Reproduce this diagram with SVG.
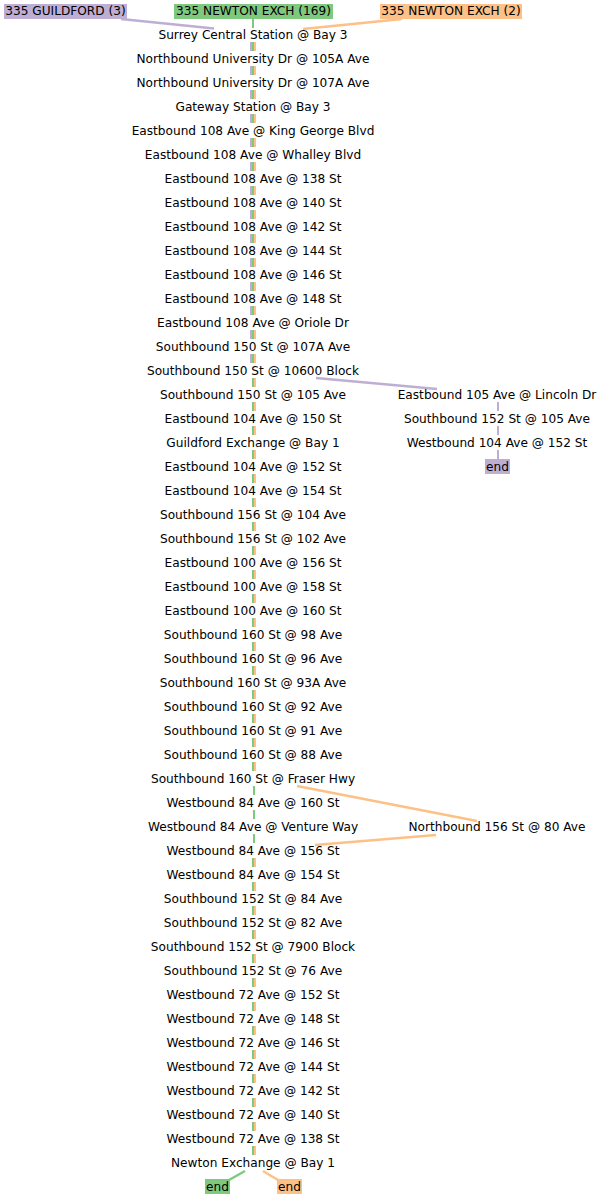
<svg xmlns="http://www.w3.org/2000/svg" width="604" height="1200" viewBox="0 0 604 1200">
<style>
text{font-family:"DejaVu Sans",sans-serif;font-size:12.15px;fill:#000;text-anchor:middle}
.p{stroke:#beaed4;fill:none;stroke-width:2}
.g{stroke:#7fc97f;fill:none;stroke-width:2}
.o{stroke:#fdc086;fill:none;stroke-width:2}
.d{stroke-width:2.5}
.pf{fill:#beaed4}.gf{fill:#7fc97f}.of{fill:#fdc086}
</style>
<rect width="604" height="1200" fill="#fff"/>
<g id="connectors">
<path class="p" d="M251 42V51M251 66V75M251 90V99M251 114V123M251 138V147M251 162V171M251 186V195M251 210V219M251 234V243M251 258V267M251 282V291M251 306V315M251 330V339M251 354V363M498 402V411M498 426V435M498 450V459"/>
<path class="p d" d="M121 19L214 28.5M316 378L437 389"/>
<path class="g" d="M253 19V28M253 42V51M253 66V75M253 90V99M253 114V123M253 138V147M253 162V171M253 186V195M253 210V219M253 234V243M253 258V267M253 282V291M253 306V315M253 330V339M253 354V363M253 378V387M253 402V411M253 426V435M253 450V459M253 474V483M253 498V507M253 522V531M253 546V555M253 570V579M253 594V603M253 618V627M253 642V651M253 666V675M253 690V699M253 714V723M253 738V747M253 762V771M254 786V795M254 810V819M254 834V843M253 858V867M253 882V891M253 906V915M253 930V939M253 954V963M253 978V987M253 1002V1011M253 1026V1035M253 1050V1059M253 1074V1083M253 1098V1107M253 1122V1131M253 1146V1155"/>
<path class="g d" d="M245 1171L229 1180"/>
<path class="o" d="M255 42V51M255 66V75M255 90V99M255 114V123M255 138V147M255 162V171M255 186V195M255 210V219M255 234V243M255 258V267M255 282V291M255 306V315M255 330V339M255 354V363M255 378V387M255 402V411M255 426V435M255 450V459M255 474V483M255 498V507M255 522V531M255 546V555M255 570V579M255 594V603M255 618V627M255 642V651M255 666V675M255 690V699M255 714V723M255 738V747M255 762V771M255 858V867M255 882V891M255 906V915M255 930V939M255 954V963M255 978V987M255 1002V1011M255 1026V1035M255 1050V1059M255 1074V1083M255 1098V1107M255 1122V1131M255 1146V1155"/>
<path class="o d" d="M402 19L303 29M297 786L477 821M436 835L315 845M263 1171L278 1180"/>
</g>
<g id="h1"><rect class="pf" x="4" y="4" width="123" height="15"/><text x="65.5" y="15">335 GUILDFORD (3)</text></g>
<g id="h2"><rect class="gf" x="174" y="4" width="159" height="15"/><text x="253.5" y="15">335 NEWTON EXCH (169)</text></g>
<g id="h3"><rect class="of" x="380" y="4" width="142" height="15"/><text x="451" y="15">335 NEWTON EXCH (2)</text></g>
<g id="n1"><text x="253" y="38.5">Surrey Central Station @ Bay 3</text></g>
<g id="n2"><text x="253" y="62.5">Northbound University Dr @ 105A Ave</text></g>
<g id="n3"><text x="253" y="86.5">Northbound University Dr @ 107A Ave</text></g>
<g id="n4"><text x="253" y="110.5">Gateway Station @ Bay 3</text></g>
<g id="n5"><text x="253" y="134.5">Eastbound 108 Ave @ King George Blvd</text></g>
<g id="n6"><text x="253" y="158.5">Eastbound 108 Ave @ Whalley Blvd</text></g>
<g id="n7"><text x="253" y="182.5">Eastbound 108 Ave @ 138 St</text></g>
<g id="n8"><text x="253" y="206.5">Eastbound 108 Ave @ 140 St</text></g>
<g id="n9"><text x="253" y="230.5">Eastbound 108 Ave @ 142 St</text></g>
<g id="n10"><text x="253" y="254.5">Eastbound 108 Ave @ 144 St</text></g>
<g id="n11"><text x="253" y="278.5">Eastbound 108 Ave @ 146 St</text></g>
<g id="n12"><text x="253" y="302.5">Eastbound 108 Ave @ 148 St</text></g>
<g id="n13"><text x="253" y="326.5">Eastbound 108 Ave @ Oriole Dr</text></g>
<g id="n14"><text x="253" y="350.5">Southbound 150 St @ 107A Ave</text></g>
<g id="n15"><text x="253" y="374.5">Southbound 150 St @ 10600 Block</text></g>
<g id="n16"><text x="253" y="398.5">Southbound 150 St @ 105 Ave</text></g>
<g id="n17"><text x="253" y="422.5">Eastbound 104 Ave @ 150 St</text></g>
<g id="n18"><text x="253" y="446.5">Guildford Exchange @ Bay 1</text></g>
<g id="n19"><text x="253" y="470.5">Eastbound 104 Ave @ 152 St</text></g>
<g id="n20"><text x="253" y="494.5">Eastbound 104 Ave @ 154 St</text></g>
<g id="n21"><text x="253" y="518.5">Southbound 156 St @ 104 Ave</text></g>
<g id="n22"><text x="253" y="542.5">Southbound 156 St @ 102 Ave</text></g>
<g id="n23"><text x="253" y="566.5">Eastbound 100 Ave @ 156 St</text></g>
<g id="n24"><text x="253" y="590.5">Eastbound 100 Ave @ 158 St</text></g>
<g id="n25"><text x="253" y="614.5">Eastbound 100 Ave @ 160 St</text></g>
<g id="n26"><text x="253" y="638.5">Southbound 160 St @ 98 Ave</text></g>
<g id="n27"><text x="253" y="662.5">Southbound 160 St @ 96 Ave</text></g>
<g id="n28"><text x="253" y="686.5">Southbound 160 St @ 93A Ave</text></g>
<g id="n29"><text x="253" y="710.5">Southbound 160 St @ 92 Ave</text></g>
<g id="n30"><text x="253" y="734.5">Southbound 160 St @ 91 Ave</text></g>
<g id="n31"><text x="253" y="758.5">Southbound 160 St @ 88 Ave</text></g>
<g id="n32"><text x="253" y="782.5">Southbound 160 St @ Fraser Hwy</text></g>
<g id="n33"><text x="253" y="806.5">Westbound 84 Ave @ 160 St</text></g>
<g id="n34"><text x="253" y="830.5">Westbound 84 Ave @ Venture Way</text></g>
<g id="n35"><text x="253" y="854.5">Westbound 84 Ave @ 156 St</text></g>
<g id="n36"><text x="253" y="878.5">Westbound 84 Ave @ 154 St</text></g>
<g id="n37"><text x="253" y="902.5">Southbound 152 St @ 84 Ave</text></g>
<g id="n38"><text x="253" y="926.5">Southbound 152 St @ 82 Ave</text></g>
<g id="n39"><text x="253" y="950.5">Southbound 152 St @ 7900 Block</text></g>
<g id="n40"><text x="253" y="974.5">Southbound 152 St @ 76 Ave</text></g>
<g id="n41"><text x="253" y="998.5">Westbound 72 Ave @ 152 St</text></g>
<g id="n42"><text x="253" y="1022.5">Westbound 72 Ave @ 148 St</text></g>
<g id="n43"><text x="253" y="1046.5">Westbound 72 Ave @ 146 St</text></g>
<g id="n44"><text x="253" y="1070.5">Westbound 72 Ave @ 144 St</text></g>
<g id="n45"><text x="253" y="1094.5">Westbound 72 Ave @ 142 St</text></g>
<g id="n46"><text x="253" y="1118.5">Westbound 72 Ave @ 140 St</text></g>
<g id="n47"><text x="253" y="1142.5">Westbound 72 Ave @ 138 St</text></g>
<g id="n48"><text x="253" y="1166.5">Newton Exchange @ Bay 1</text></g>
<g id="r1"><text x="497" y="398.5">Eastbound 105 Ave @ Lincoln Dr</text></g>
<g id="r2"><text x="497" y="422.5">Southbound 152 St @ 105 Ave</text></g>
<g id="r3"><text x="497" y="446.5">Westbound 104 Ave @ 152 St</text></g>
<g id="r4"><rect class="pf" x="485" y="459" width="25" height="15"/><text x="497.5" y="470.5">end</text></g>
<g id="o1"><text x="497" y="830.5">Northbound 156 St @ 80 Ave</text></g>
<g id="e1"><rect class="gf" x="205" y="1179" width="25" height="15"/><text x="217.5" y="1190.5">end</text></g>
<g id="e2"><rect class="of" x="277" y="1179" width="25" height="15"/><text x="289.5" y="1190.5">end</text></g>
</svg>
